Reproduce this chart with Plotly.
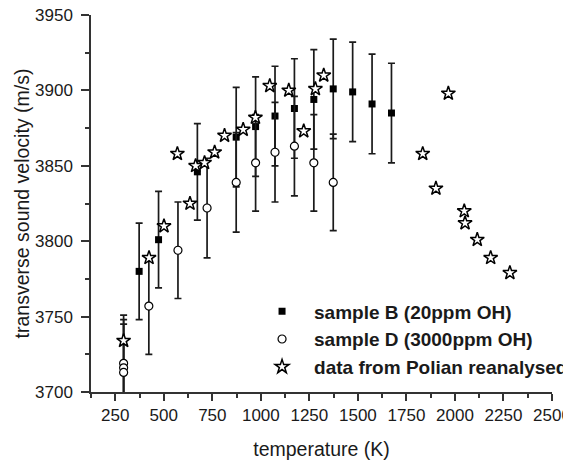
import plotly.graph_objects as go

# Sample B (20 ppm OH)
b_temp = [373, 473, 673, 873, 973, 1073, 1173, 1273, 1373, 1473, 1573, 1673]
b_vel = [3780, 3801, 3846, 3869, 3876, 3883, 3888, 3894, 3901, 3899, 3891, 3885]
b_err = [32, 32, 32, 33, 33, 33, 33, 33, 33, 33, 33, 33]

# Sample D (3000 ppm OH)
d_temp = [293, 293, 293, 423, 573, 723, 873, 973, 1073, 1173, 1273, 1373]
d_vel = [3719, 3716, 3713, 3757, 3794, 3822, 3839, 3852, 3859, 3863, 3852, 3839]
d_err = [32, 32, 32, 32, 32, 33, 33, 32, 33, 33, 32, 32]

# Polian data reanalysed
p_temp = [293, 424, 501, 570, 635, 664, 710, 762, 813, 909, 972, 1046, 1144, 1221,
          1281, 1324, 1834, 1902, 1966, 2048, 2052, 2115, 2184, 2283]
p_vel = [3734, 3789, 3810, 3858, 3825, 3850, 3852, 3859, 3870, 3874, 3882, 3903, 3900, 3873,
         3901, 3910, 3858, 3835, 3898, 3820, 3812, 3801, 3789, 3779]

FONT = "Arial, Liberation Sans, sans-serif"
INK = "#1a1a1a"

fig = go.Figure()
err_style = dict(type="data", visible=True, color=INK, thickness=1.7, width=3.5)

fig.add_trace(go.Scatter(
    x=b_temp, y=b_vel, mode="markers", name="sample B (20ppm OH)",
    error_y=dict(array=b_err, **err_style),
    marker=dict(symbol="square", size=7, color="black", line=dict(width=0)),
    cliponaxis=True,
))
fig.add_trace(go.Scatter(
    x=d_temp, y=d_vel, mode="markers", name="sample D (3000ppm OH)",
    error_y=dict(array=d_err, **err_style),
    marker=dict(symbol="circle", size=8, color="white", line=dict(width=1.2, color="black")),
    cliponaxis=True,
))
fig.add_trace(go.Scatter(
    x=p_temp, y=p_vel, mode="markers", name="data from Polian reanalysed",
    marker=dict(symbol="star", size=10.5, color="white", line=dict(width=1.5, color="black")),
    cliponaxis=False,
))

axis_common = dict(
    showline=True, linecolor="#333333", linewidth=1.5, mirror=False,
    showgrid=False, zeroline=False,
    ticks="outside", tickcolor="#333333", tickwidth=1.5,
    tickfont=dict(family=FONT, size=17, color=INK),
    tickangle=0, automargin=False,
)

fig.update_xaxes(
    range=[125, 2500], tick0=0, dtick=250, ticklen=7, ticklabelstandoff=0,
    minor=dict(ticks="outside", dtick=125, tick0=0, ticklen=4, tickcolor="#333333", tickwidth=1.5),
    title=dict(text="temperature (K)", font=dict(family=FONT, size=19.5, color=INK), standoff=18),
    **axis_common,
)
fig.update_yaxes(
    range=[3700, 3950], tick0=3700, dtick=50, ticklen=8, ticklabelstandoff=5,
    minor=dict(ticks="outside", dtick=25, tick0=3700, ticklen=4, tickcolor="#333333", tickwidth=1.5),
    title=dict(text="transverse sound velocity (m/s)", font=dict(family=FONT, size=19.5, color=INK), standoff=0),
    **axis_common,
)

# the page adds an 8 px body margin, so the margins are shifted to compensate
fig.update_layout(
    width=571, height=466,
    margin=dict(l=82.5, r=26.7, t=6.7, b=82.3, autoexpand=False),
    paper_bgcolor="white", plot_bgcolor="white",
    showlegend=True,
    legend=dict(
        x=0.345, y=0.264, xanchor="left", yanchor="top",
        bgcolor="rgba(0,0,0,0)", borderwidth=0,
        font=dict(family=FONT, size=19, color=INK, weight="bold"),
        itemwidth=54,
    ),
)

fig.write_html("out.html")
